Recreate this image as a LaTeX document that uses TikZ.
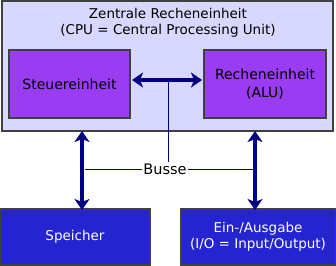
\documentclass[tikz,border=0pt]{standalone}
\usepackage{fontspec}
\setmainfont{DejaVu Sans}
\usepackage{tikz}
\usetikzlibrary{arrows.meta,calc}
\definecolor{cpufill}{HTML}{D8D8FF}
\definecolor{unitfill}{HTML}{9B3CF5}
\definecolor{periphfill}{HTML}{2424D0}
\definecolor{busblue}{HTML}{000080}
\tikzset{
  cpubox/.style   ={rectangle, draw=black!75, line width=2pt, fill=cpufill, inner sep=0pt},
  unitbox/.style  ={rectangle, draw=black!75, line width=2pt, fill=unitfill, align=center, inner sep=0pt, font=\fontsize{14}{18}\selectfont},
  periphbox/.style={rectangle, draw=black!75, line width=2pt, fill=periphfill, text=white, align=center, inner sep=0pt, font=\fontsize{13.5}{15.5}\selectfont},
  bus/.style      ={{Stealth[length=11pt,width=15pt,inset=3pt]}-{Stealth[length=11pt,width=15pt,inset=3pt]}, draw=busblue, line width=3.2pt},
  busline/.style  ={draw=busblue, line width=0.9pt},
}

\begin{document}
\begin{tikzpicture}[x=1pt,y=-1pt]
\useasboundingbox (0,0) rectangle (336,265);
% --- central processing unit ---
\node[cpubox, minimum width=331pt, minimum height=130pt] (cpu) at (167.5,66) {};
\node[align=center, font=\fontsize{13.5}{16}\selectfont] (cputitle) at (168,22.5) {Zentrale Recheneinheit\\(CPU = Central Processing Unit)};
\node[unitbox, minimum width=121pt, minimum height=68pt] (steuer) at (69.5,84) {Steuereinheit};
\node[unitbox, minimum width=122pt, minimum height=68pt] (rechen) at (265,84) {Recheneinheit\\(ALU)};
% --- peripherals ---
\node[periphbox, minimum width=150pt, minimum height=56pt] (speicher) at (75,237) {Speicher};
\node[periphbox, minimum width=155pt, minimum height=56pt] (io) at (258,237) {Ein-/Ausgabe\\(I/O = Input/Output)};
% --- busses ---
\node[font=\fontsize{14.5}{16}\selectfont, inner sep=1pt] (busse) at (165,169) {Busse};
\coordinate (hb) at (0,80);
\coordinate (lb) at (82,0);
\coordinate (rb) at (255,0);
\coordinate (vb) at (168,0);
\draw[bus] ([xshift=1pt]steuer.east |- hb) -- ([xshift=-1pt]rechen.west |- hb);
\draw[bus] ([yshift=1pt]cpu.south -| lb) -- ([yshift=-2pt]speicher.north -| lb);
\draw[bus] ([yshift=1pt]cpu.south -| rb) -- ([yshift=-2pt]io.north -| rb);
\draw[busline] (hb -| vb) -- (busse.north -| vb);
\draw[busline] (busse.west) -- ([xshift=3pt]busse.west -| lb);
\draw[busline] (busse.east) -- ([xshift=-2pt]busse.east -| rb);
\end{tikzpicture}
\end{document}
